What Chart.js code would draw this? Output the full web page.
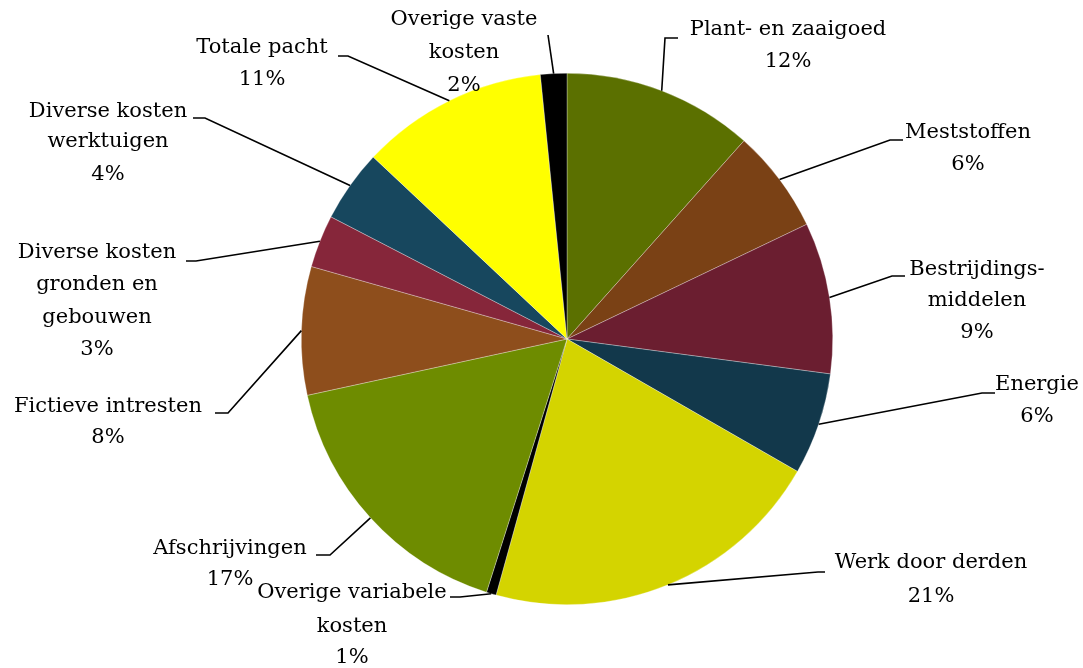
<!DOCTYPE html>
<html>
<head>
<meta charset="utf-8">
<script src="https://cdn.jsdelivr.net/npm/chart.js@4/dist/chart.umd.min.js"></script>
<style>
  html, body { margin: 0; padding: 0; background: #fff; }
  #wrap { width: 1083px; height: 668px; }
</style>
</head>
<body>
<div id="wrap"><canvas id="myChart" width="1083" height="668"></canvas></div>
<script>
// categories (one entry per slice, split in label lines)
var categories = [
    ['Plant- en zaaigoed'],
    ['Meststoffen'],
    ['Bestrijdings-', 'middelen'],
    ['Energie'],
    ['Werk door derden'],
    ['Overige variabele', 'kosten'],
    ['Afschrijvingen'],
    ['Fictieve intresten'],
    ['Diverse kosten', 'gronden en', 'gebouwen'],
    ['Diverse kosten', 'werktuigen'],
    ['Totale pacht'],
    ['Overige vaste', 'kosten']
];
// share of total costs (%)
var shares = [11.6, 6.3, 9.2, 6.2, 21.0, 0.6, 16.7, 7.8, 3.2, 4.4, 11.4, 1.6];

var colors = [
    '#5b7000', '#7a4115', '#6b1e30', '#12384b', '#d4d400', '#000000',
    '#6e8c00', '#8e4e1c', '#86263a', '#17475e', '#ffff00', '#000000'
];

// where each label sits: text centre x, line middles y, leader elbow, leader end x
var labelLayout = [
    { cx: 788, ys: [30, 62], elbow: [665, 38], endX: 678 },
    { cx: 968, ys: [133, 165], elbow: [890, 140], endX: 903 },
    { cx: 977, ys: [270, 301, 333], elbow: [892, 276], endX: 905 },
    { cx: 1037, ys: [385, 417], elbow: [982, 393], endX: 995 },
    { cx: 931, ys: [563, 597], elbow: [818, 572], endX: 825 },
    { cx: 352, ys: [593, 627, 658], elbow: [460, 597], endX: 450 },
    { cx: 230, ys: [549, 580], elbow: [330, 555], endX: 316 },
    { cx: 108, ys: [407, 438], elbow: [228, 413], endX: 215 },
    { cx: 97, ys: [253, 285, 318, 350], elbow: [196, 261], endX: 186 },
    { cx: 108, ys: [112, 142, 175], elbow: [205, 118], endX: 193 },
    { cx: 262, ys: [48, 80], elbow: [348, 56], endX: 338 },
    { cx: 464, ys: [20, 53, 86], elbow: [548, 35], endX: 548 }
];

var labelFont = '21px "DejaVu Serif", serif';

var leaderLabels = {
    id: 'leaderLabels',
    afterDatasetsDraw: function(chart) {
        var ctx = chart.ctx;
        var meta = chart.getDatasetMeta(0);
        var total = shares.reduce(function(a, b) { return a + b; }, 0);
        ctx.save();
        meta.data.forEach(function(arc, i) {
            var p = arc.getProps(['x', 'y', 'startAngle', 'endAngle', 'outerRadius'], true);
            var mid = (p.startAngle + p.endAngle) / 2;
            var sx = p.x + Math.cos(mid) * p.outerRadius;
            var sy = p.y + Math.sin(mid) * p.outerRadius;
            var lay = labelLayout[i];

            ctx.strokeStyle = '#000';
            ctx.lineWidth = 1.6;
            ctx.beginPath();
            ctx.moveTo(sx, sy);
            ctx.lineTo(lay.elbow[0], lay.elbow[1]);
            ctx.lineTo(lay.endX, lay.elbow[1]);
            ctx.stroke();

            var lines = categories[i].concat([Math.round(shares[i] / total * 100) + '%']);
            ctx.fillStyle = '#000';
            ctx.font = labelFont;
            ctx.textAlign = 'center';
            ctx.textBaseline = 'middle';
            lines.forEach(function(t, k) {
                ctx.fillText(t, lay.cx, lay.ys[k]);
            });
        });
        ctx.restore();
    }
};

var ctx = document.getElementById('myChart');

var myChart = new Chart(ctx, {
    type: 'pie',
    data: {
        labels: categories,
        datasets: [{
            data: shares,
            backgroundColor: colors,
            borderColor: 'rgba(255,255,255,0.6)',
            borderWidth: 0.5
        }]
    },
    options: {
        responsive: false,
        animation: false,
        layout: {
            padding: { top: 73, bottom: 63, left: 301, right: 250 }
        },
        plugins: {
            legend: { display: false },
            tooltip: { enabled: false }
        }
    },
    plugins: [leaderLabels]
});
</script>
</body>
</html>
